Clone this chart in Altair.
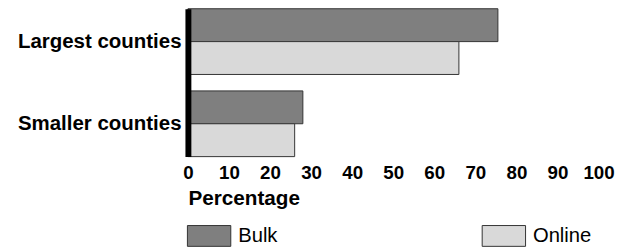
import altair as alt
import pandas as pd

categories = ["Largest counties", "Smaller counties"]
series = ["Bulk", "Online"]
bulk = [75.5, 28]
online = [66, 26]
tick_values = [0, 10, 20, 30, 40, 50, 60, 70, 80, 90, 100]
colors = ["#7f7f7f", "#d9d9d9"]

rows = []
for c, b, o in zip(categories, bulk, online):
    rows.append({"category": c, "series": "Bulk", "value": b})
    rows.append({"category": c, "series": "Online", "value": o})
df = pd.DataFrame(rows)

FONT = "Liberation Sans"

chart = alt.Chart(df).mark_bar(stroke="#333333", strokeWidth=1, opacity=1).encode(
    x=alt.X(
        "value:Q",
        scale=alt.Scale(domain=[0, 100], nice=False, zero=True),
        axis=alt.Axis(
            values=tick_values,
            title="Percentage",
            domain=False,
            ticks=False,
            tickSize=0,
            grid=False,
            labelFont=FONT,
            labelFontWeight="bold",
            labelFontSize=19,
            labelColor="black",
            labelPadding=7,
            labelFlush=False,
            titleFont=FONT,
            titleFontWeight="bold",
            titleFontSize=21,
            titleColor="black",
            titleAnchor="start",
            titleAlign="left",
            titlePadding=6,
        ),
    ),
    y=alt.Y(
        "category:N",
        sort=categories,
        scale=alt.Scale(paddingInner=0.2, paddingOuter=0),
        axis=alt.Axis(
            title=None,
            domain=True,
            domainColor="black",
            domainWidth=6,
            ticks=False,
            tickSize=0,
            grid=False,
            labelFont=FONT,
            labelFontWeight="bold",
            labelFontSize=20.75,
            labelColor="black",
            labelPadding=7,
            labelLimit=400,
            zindex=1,
        ),
    ),
    yOffset=alt.YOffset("series:N", sort=series, scale=alt.Scale(paddingInner=0, paddingOuter=0)),
    color=alt.Color(
        "series:N",
        sort=series,
        scale=alt.Scale(domain=series, range=colors),
        legend=alt.Legend(
            title=None,
            orient="none",
            legendX=-1,
            legendY=207.5,
            direction="horizontal",
            columns=2,
            columnPadding=205,
            padding=0,
            symbolType="M-1,-0.48H1V0.48H-1Z",
            symbolSize=1936,
            symbolStrokeColor="#333333",
            symbolStrokeWidth=1,
            symbolOpacity=1,
            labelFont=FONT,
            labelFontSize=20.5,
            labelColor="black",
            labelOffset=7,
        ),
    ),
).properties(
    width=416.5,
    height=150,
    background="white",
    autosize=alt.AutoSizeParams(type="none"),
    padding={"left": 182.5, "top": -1, "right": 35, "bottom": 95},
).configure_view(stroke=None)

chart.save("out.html", embed_options={"renderer": "svg", "actions": False})
